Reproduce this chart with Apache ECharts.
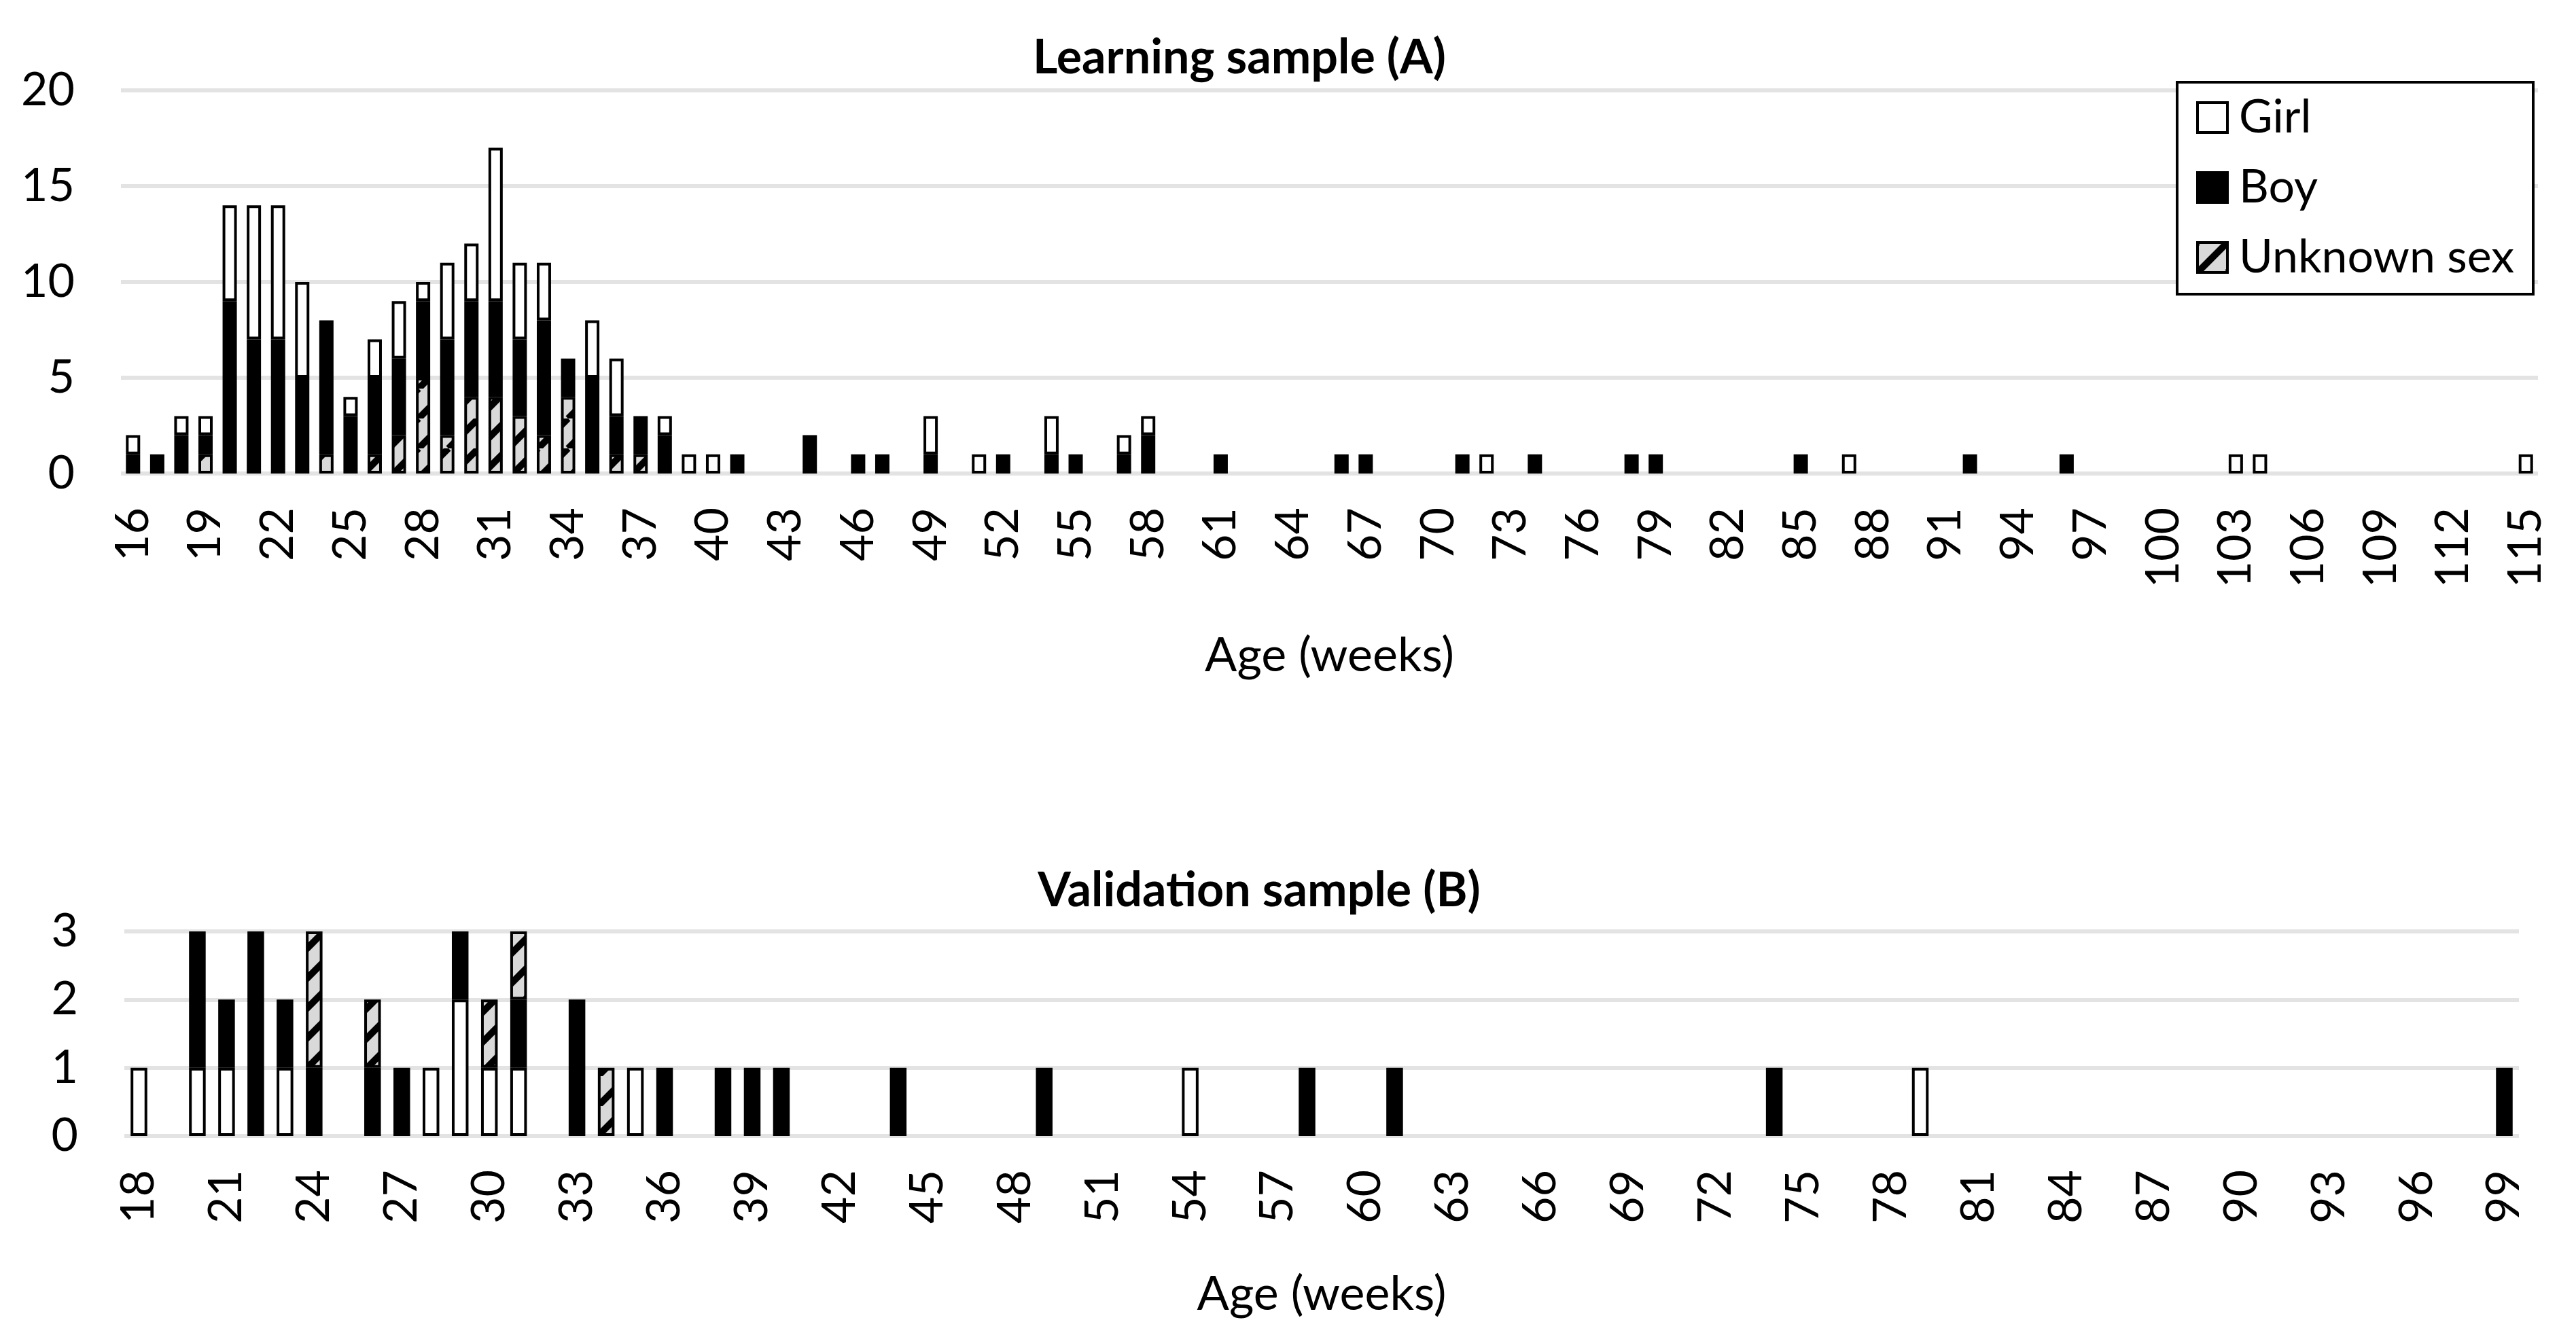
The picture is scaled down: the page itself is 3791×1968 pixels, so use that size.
<!DOCTYPE html>
<html>
<head>
<meta charset="utf-8">
<script src="https://cdn.jsdelivr.net/npm/echarts@6/dist/echarts.min.js"></script>
<style>
html,body{margin:0;padding:0;background:#fff;}
#c{width:3791px;height:1968px;}
</style>
</head>
<body>
<div id="c"></div>
<script>
// ---------- DATA ----------
const weeksA = [16,17,18,19,20,21,22,23,24,25,26,27,28,29,30,31,32,33,34,35,36,37,38,39,40,41,42,43,44,45,46,47,48,49,50,51,52,53,54,55,56,57,58,59,60,61,62,63,64,65,66,67,68,69,70,71,72,73,74,75,76,77,78,79,80,81,82,83,84,85,86,87,88,89,90,91,92,93,94,95,96,97,98,99,100,101,102,103,104,105,106,107,108,109,110,111,112,113,114,115];
const weeksB = [18,19,20,21,22,23,24,25,26,27,28,29,30,31,32,33,34,35,36,37,38,39,40,41,42,43,44,45,46,47,48,49,50,51,52,53,54,55,56,57,58,59,60,61,62,63,64,65,66,67,68,69,70,71,72,73,74,75,76,77,78,79,80,81,82,83,84,85,86,87,88,89,90,91,92,93,94,95,96,97,98,99];

// [week, count]
const unknownA = [[19,1],[24,1],[26,1],[27,2],[28,5],[29,2],[30,4],[31,4],[32,3],[33,2],[34,4],[36,1],[37,1]];
const boyA = [[16,1],[17,1],[18,2],[19,1],[20,9],[21,7],[22,7],[23,5],[24,7],[25,3],[26,4],[27,4],[28,4],[29,5],[30,5],[31,5],[32,4],[33,6],[34,2],[35,5],[36,2],[37,2],[38,2],[41,1],[44,2],[46,1],[47,1],[49,1],[52,1],[54,1],[55,1],[57,1],[58,2],[61,1],[66,1],[67,1],[71,1],[74,1],[78,1],[79,1],[85,1],[92,1],[96,1]];
const girlA = [[16,1],[18,1],[19,1],[20,5],[21,7],[22,7],[23,5],[25,1],[26,2],[27,3],[28,1],[29,4],[30,3],[31,8],[32,4],[33,3],[35,3],[36,3],[38,1],[39,1],[40,1],[49,2],[51,1],[54,2],[57,1],[58,1],[72,1],[87,1],[103,1],[104,1],[115,1]];

const girlB = [[18,1],[20,1],[21,1],[23,1],[28,1],[29,2],[30,1],[31,1],[35,1],[54,1],[79,1]];
const boyB = [[20,2],[21,1],[22,3],[23,1],[24,1],[26,1],[27,1],[29,1],[31,1],[33,2],[36,1],[38,1],[39,1],[40,1],[44,1],[49,1],[58,1],[61,1],[74,1],[99,1]];
const unknownB = [[24,2],[26,1],[30,1],[31,1],[34,1]];

const yTicksA = [0,5,10,15,20];
const yTicksB = [0,1,2,3];

// ---------- helpers ----------
function expand(weeks, pairs){
  const m = {}; pairs.forEach(p => { m[p[0]] = p[1]; });
  return weeks.map(w => (m[w] ? m[w] : '-'));
}
function makeHatch(){
  const P = 44, c = document.createElement('canvas');
  c.width = P; c.height = P;
  const g = c.getContext('2d');
  g.fillStyle = '#d9d9d9'; g.fillRect(0,0,P,P);
  g.strokeStyle = '#000'; g.lineWidth = 10;
  for (let k=-1;k<=1;k++){ g.beginPath(); g.moveTo(k*P, P); g.lineTo(k*P+P, 0); g.stroke(); }
  return c;
}
const hatch = {image: makeHatch(), repeat: 'repeat'};
const FONT = 'Lato';
const BW = 4;
const styles = {
  'Girl': {color:'#ffffff', borderColor:'#000', borderWidth:BW},
  'Boy': {color:'#000000', borderColor:'#000', borderWidth:BW},
  'Unknown sex': {color:hatch, borderColor:'#000', borderWidth:BW}
};
function bar(name, data, idx, stack, gap){
  return {type:'bar', name:name, data:data, xAxisIndex:idx, yAxisIndex:idx, stack:stack,
    barCategoryGap:gap, itemStyle:styles[name], emphasis:{disabled:true}, animation:false};
}
function xAx(idx, cats, gap){
  return {type:'category', gridIndex:idx, data:cats.map(String),
    axisLine:{show:false}, axisTick:{show:false},
    axisLabel:{interval:2, rotate:90, margin:50, fontFamily:FONT, fontSize:68, color:'#000'},
    name:'Age (weeks)', nameLocation:'middle', nameGap:gap,
    nameTextStyle:{fontFamily:FONT, fontSize:70, color:'#000'}};
}
function yAx(idx, ticks){
  return {type:'value', gridIndex:idx, min:ticks[0], max:ticks[ticks.length-1], interval:ticks[1]-ticks[0],
    axisLine:{show:false}, axisTick:{show:false},
    axisLabel:{margin:68, fontFamily:FONT, fontSize:68, color:'#000'},
    splitLine:{lineStyle:{color:'#e3e3e3', width:6}}};
}

const chart = echarts.init(document.getElementById('c'), null, {renderer:'canvas'});
chart.setOption({
  backgroundColor:'#fff',
  animation:false,
  title:[
    {text:'Learning sample (A)', left:1819, top:45, textAlign:'center',
      textStyle:{fontFamily:FONT, fontWeight:'bold', fontSize:70, color:'#000'}},
    {text:'Validation sample (B)', left:1848, top:1271, textAlign:'center',
      textStyle:{fontFamily:FONT, fontWeight:'bold', fontSize:70, color:'#000'}}
  ],
  legend:{
    data:['Girl','Boy','Unknown sex'], orient:'vertical', left:3204, top:121, icon:'rect',
    itemWidth:44, itemHeight:44, itemGap:35, selectedMode:false,
    padding:[18,28,20,28], borderColor:'#000', borderWidth:4, backgroundColor:'#fff',
    itemStyle:{borderWidth:4},
    textStyle:{fontFamily:FONT, fontSize:68, color:'#000', lineHeight:60, padding:[0,0,0,12]}
  },
  grid:[
    {left:178, top:133, width:3557, height:564, outerBoundsMode:'none', containLabel:false},
    {left:183, top:1371, width:3524, height:301, outerBoundsMode:'none', containLabel:false}
  ],
  xAxis:[xAx(0, weeksA, 233), xAx(1, weeksB, 198)],
  yAxis:[yAx(0, yTicksA), yAx(1, yTicksB)],
  series:[
    bar('Unknown sex', expand(weeksA, unknownA), 0, 'A', '41%'),
    bar('Boy', expand(weeksA, boyA), 0, 'A', '41%'),
    bar('Girl', expand(weeksA, girlA), 0, 'A', '41%'),
    bar('Girl', expand(weeksB, girlB), 1, 'B', '43%'),
    bar('Boy', expand(weeksB, boyB), 1, 'B', '43%'),
    bar('Unknown sex', expand(weeksB, unknownB), 1, 'B', '43%')
  ]
});
</script>
</body>
</html>
